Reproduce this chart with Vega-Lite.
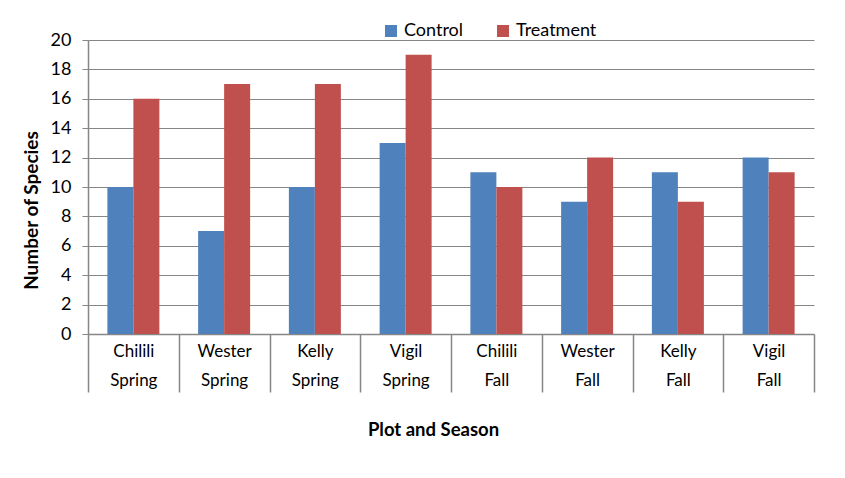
{
  "$schema": "https://vega.github.io/schema/vega-lite/v6.json",
  "width": 726,
  "height": 294,
  "autosize": {"type": "none"},
  "padding": {"left": 88, "top": 40, "right": 31, "bottom": 144},
  "background": "white",
  "config": {
    "font": "Lato",
    "view": {"stroke": null},
    "axis": {"labelColor": "#000000", "titleColor": "#000000", "domainColor": "#868686", "tickColor": "#868686", "gridColor": "#868686", "labelFont": "Lato", "titleFont": "Lato"}
  },
  "data": {
    "values": [
      {"group": "Chilili Spring", "series": "Control", "species": 10},
      {"group": "Chilili Spring", "series": "Treatment", "species": 16},
      {"group": "Wester Spring", "series": "Control", "species": 7},
      {"group": "Wester Spring", "series": "Treatment", "species": 17},
      {"group": "Kelly Spring", "series": "Control", "species": 10},
      {"group": "Kelly Spring", "series": "Treatment", "species": 17},
      {"group": "Vigil Spring", "series": "Control", "species": 13},
      {"group": "Vigil Spring", "series": "Treatment", "species": 19},
      {"group": "Chilili Fall", "series": "Control", "species": 11},
      {"group": "Chilili Fall", "series": "Treatment", "species": 10},
      {"group": "Wester Fall", "series": "Control", "species": 9},
      {"group": "Wester Fall", "series": "Treatment", "species": 12},
      {"group": "Kelly Fall", "series": "Control", "species": 11},
      {"group": "Kelly Fall", "series": "Treatment", "species": 9},
      {"group": "Vigil Fall", "series": "Control", "species": 12},
      {"group": "Vigil Fall", "series": "Treatment", "species": 11}
    ]
  },
  "mark": {"type": "bar"},
  "encoding": {
    "x": {
      "field": "group",
      "type": "nominal",
      "sort": null,
      "scale": {"paddingInner": 0, "paddingOuter": 0},
      "axis": {
        "title": "Plot and Season",
        "titleFontSize": 18.5,
        "titleFontWeight": "bold",
        "titleBaseline": "top",
        "titleAlign": "center",
        "titleX": 345,
        "titleY": 86,
        "labelAngle": 0,
        "labelFontSize": 17,
        "labelExpr": "split(datum.label, ' ')",
        "labelLineHeight": 29,
        "labelBaseline": "top",
        "labelPadding": -49,
        "tickBand": "extent",
        "tickSize": 58,
        "tickWidth": 1.5,
        "domainWidth": 1.5
      }
    },
    "xOffset": {
      "field": "series",
      "sort": ["Control", "Treatment"],
      "scale": {"paddingInner": 0, "paddingOuter": 0.745}
    },
    "y": {
      "field": "species",
      "type": "quantitative",
      "scale": {"domain": [0, 20]},
      "axis": {
        "title": "Number of Species",
        "titleFontSize": 19,
        "titleFontWeight": "bold",
        "titlePadding": 9,
        "titleAlign": "center",
        "titleY": 170,
        "values": [0, 2, 4, 6, 8, 10, 12, 14, 16, 18, 20],
        "labelFontSize": 18,
        "labelPadding": 11,
        "tickSize": 6,
        "domainWidth": 1.5,
        "gridWidth": 1
      }
    },
    "color": {
      "field": "series",
      "type": "nominal",
      "scale": {"domain": ["Control", "Treatment"], "range": ["#4F81BD", "#C0504D"]},
      "legend": {
        "title": null,
        "orient": "none",
        "direction": "horizontal",
        "legendX": 294,
        "legendY": -18,
        "symbolType": "square",
        "symbolSize": 144,
        "symbolStrokeWidth": 0,
        "symbolOpacity": 1,
        "labelFontSize": 18,
        "labelFont": "Lato",
        "labelColor": "#000000",
        "labelOffset": 4,
        "columnPadding": 30
      }
    }
  }
}
